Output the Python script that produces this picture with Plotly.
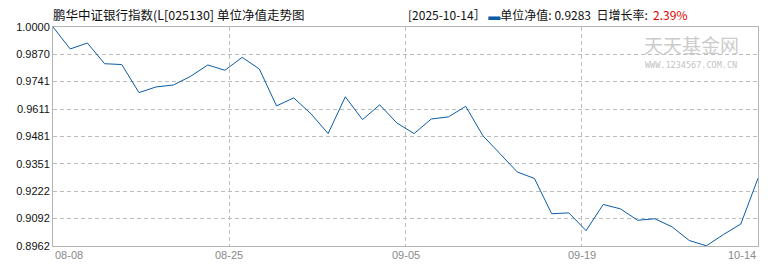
import plotly.graph_objects as go

# ---- data ----
dates = ["08-08","08-11","08-12","08-13","08-14","08-15","08-18","08-19","08-20","08-21",
         "08-22","08-25","08-26","08-27","08-28","08-29","09-01","09-02","09-03","09-04",
         "09-05","09-08","09-09","09-10","09-11","09-12","09-15","09-16","09-17","09-18",
         "09-19","09-22","09-23","09-24","09-25","09-26","09-29","09-30","10-09","10-10",
         "10-13","10-14"]
nav = [1.0000, 0.9896, 0.9924, 0.9826, 0.9822, 0.9689, 0.9716, 0.9725, 0.9766, 0.9820,
       0.9795, 0.9856, 0.9801, 0.9626, 0.9664, 0.9589, 0.9495, 0.9669, 0.9561, 0.9631,
       0.9545, 0.9495, 0.9564, 0.9574, 0.9624, 0.9485, 0.9399, 0.9313, 0.9282, 0.9115,
       0.9119, 0.9035, 0.9159, 0.9138, 0.9084, 0.9091, 0.9053, 0.8988, 0.8963, 0.9017,
       0.9066, 0.9283]
y_ticks = ["1.0000","0.9870","0.9741","0.9611","0.9481","0.9351","0.9222","0.9092","0.8962"]
x_tick_labels = ["08-08","08-25","09-05","09-19","10-14"]
x_tick_fracs = [0, 0.25, 0.5, 0.75, 1.0]

title_text = "鹏华中证银行指数(L[025130] 单位净值走势图"
info_date = "2025-10-14"
info_nav = "0.9283"
info_rate = "2.39%"

LINE = "#0b5ca8"
GRID = "#bdbdbd"
FRAME = "#b4b4b4"

n = len(nav)
xs = list(range(n))
xt = [f * (n - 1) for f in x_tick_fracs]

fig = go.Figure()
fig.add_trace(go.Scatter(x=xs, y=nav, mode="lines", customdata=dates,
                         line=dict(color=LINE, width=1),
                         hovertemplate="%{customdata}: %{y:.4f}<extra></extra>"))

fig.update_layout(
    width=770, height=270,
    margin=dict(l=53, r=12, t=27, b=24),
    paper_bgcolor="white", plot_bgcolor="white",
    showlegend=False,
    font=dict(family="Noto Sans CJK SC, Noto Sans, sans-serif", size=12, color="#000"),
)
fig.update_xaxes(range=[0, n - 1], tickvals=xt[1:-1], showticklabels=False,
                 showgrid=True, gridcolor=GRID, griddash="4px,3px", gridwidth=1,
                 zeroline=False, showline=True, linecolor=FRAME, linewidth=1, mirror=True,
                 ticks="")
fig.update_yaxes(range=[float(y_ticks[-1]), float(y_ticks[0])],
                 tickvals=[float(t) for t in y_ticks], ticktext=y_ticks,
                 showgrid=True, gridcolor=GRID, griddash="4px,3px", gridwidth=1,
                 zeroline=False, showline=True, linecolor=FRAME, linewidth=1, mirror=True,
                 ticks="", tickfont=dict(family="Liberation Sans, Arial, sans-serif", size=11, color="#111"))

# x labels: first left-aligned, last right-aligned, others centered
for i, (v, lab) in enumerate(zip(xt, x_tick_labels)):
    anchor = "left" if i == 0 else ("right" if i == len(xt) - 1 else "center")
    fig.add_annotation(x=v, y=0, xref="x", yref="paper", text=lab, showarrow=False,
                       xanchor=anchor, yanchor="top", yshift=-1,
                       font=dict(family="Liberation Sans, Arial, sans-serif", size=11, color="#8a8a8a"))

# title
fig.add_annotation(x=0, y=1.055, xref="paper", yref="paper", text=title_text, showarrow=False,
                   xanchor="left", yanchor="middle", xshift=-2,
                   font=dict(family="Noto Sans CJK SC", size=12.5, color="#111"))
# info
info = (f"[{info_date}］ <span style='color:{LINE}'>▬</span>单位净值: {info_nav}  日增长率:  "
        f"<span style='color:#e00000'>{info_rate}</span>")
fig.add_annotation(x=0.5, y=1.055, xref="paper", yref="paper", text=info, showarrow=False,
                   xanchor="left", yanchor="middle",
                   font=dict(family="Noto Sans CJK SC", size=12, color="#111"))

# watermark
fig.add_annotation(x=0.905, y=0.922, xref="paper", yref="paper", text="天天基金网", showarrow=False,
                   xanchor="center", yanchor="middle",
                   font=dict(family="Noto Sans CJK SC", size=19, color="#cccccc"))
fig.add_annotation(x=0.905, y=0.826, xref="paper", yref="paper", text="WWW.1234567.COM.CN", showarrow=False,
                   xanchor="center", yanchor="middle",
                   font=dict(family="DejaVu Sans Mono", size=8.5, color="#c4c4c4"))

fig.write_html("out.html")
